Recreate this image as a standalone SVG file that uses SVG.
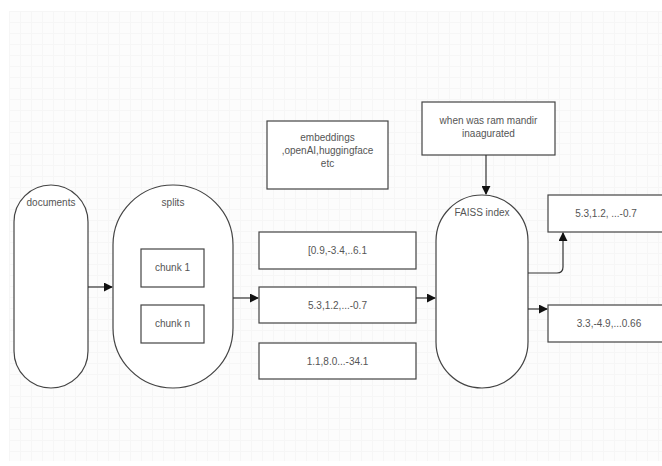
<svg xmlns="http://www.w3.org/2000/svg" width="662" height="466" viewBox="0 0 662 466">
<defs>
<pattern id="grid" width="11" height="11" patternUnits="userSpaceOnUse" x="9" y="11">
<rect width="11" height="11" fill="#fcfcfc"/>
<path d="M0 0.5H11M0.5 0V11" stroke="#f6f6f6" stroke-width="1" fill="none"/>
</pattern>
<marker id="arr" viewBox="0 0 10 10" refX="9" refY="5" markerWidth="9" markerHeight="9" markerUnits="userSpaceOnUse" orient="auto">
<path d="M0 0L10 5L0 10z" fill="#111"/>
</marker>
</defs>
<style>
.shape{fill:#fff;stroke:#444;stroke-width:1.2}
.t{font-family:"Liberation Sans Narrow","Liberation Sans",Arial,sans-serif;font-size:10px;fill:#555;text-anchor:middle}
.c{fill:none;stroke:#333;stroke-width:1.2}
</style>
<rect x="0" y="0" width="662" height="466" fill="#fff"/>
<rect x="9" y="11" width="653" height="450" fill="url(#grid)"/>

<g id="documents">
<rect class="shape" x="14" y="185" width="74" height="203" rx="37" ry="37"/>
<text class="t" x="51" y="206">documents</text>
</g>
<g id="splits">
<rect class="shape" x="113" y="185" width="120" height="203" rx="60" ry="60"/>
<text class="t" x="173" y="206">splits</text>
</g>
<g id="chunk1">
<rect class="shape" x="141" y="249" width="63" height="38"/>
<text class="t" x="172.5" y="271">chunk 1</text>
</g>
<g id="chunkn">
<rect class="shape" x="141" y="305" width="63" height="38"/>
<text class="t" x="172.5" y="327">chunk n</text>
</g>
<g id="embeddings">
<rect class="shape" x="267" y="121" width="121" height="68"/>
<text class="t" x="327.5" y="141">embeddings</text>
<text class="t" x="327.5" y="154">,openAI,huggingface</text>
<text class="t" x="327.5" y="167">etc</text>
</g>
<g id="vec1">
<rect class="shape" x="259" y="232" width="157" height="37"/>
<text class="t" x="337.5" y="254">[0.9,-3.4,..6.1</text>
</g>
<g id="vec2">
<rect class="shape" x="259" y="287" width="157" height="36"/>
<text class="t" x="337.5" y="309">5.3,1.2,...-0.7</text>
</g>
<g id="vec3">
<rect class="shape" x="259" y="343" width="157" height="36"/>
<text class="t" x="337.5" y="365">1.1,8.0...-34.1</text>
</g>
<g id="question">
<rect class="shape" x="422" y="102" width="133" height="53"/>
<text class="t" x="488.5" y="124">when was ram mandir</text>
<text class="t" x="488.5" y="137">inaagurated</text>
</g>
<g id="faiss">
<rect class="shape" x="436" y="195" width="92" height="193" rx="46" ry="46"/>
<text class="t" x="482" y="216">FAISS index</text>
</g>
<g id="result1">
<rect class="shape" x="548" y="195" width="120" height="37"/>
<text class="t" x="606" y="217">5.3,1.2, ...-0.7</text>
</g>
<g id="result2">
<rect class="shape" x="548" y="305" width="120" height="37"/>
<text class="t" x="609" y="327">3.3,-4.9,...0.66</text>
</g>

<g id="connectors">
<path class="c" d="M88 287H112" marker-end="url(#arr)"/>
<path class="c" d="M233 298H258" marker-end="url(#arr)"/>
<path class="c" d="M416 298H435" marker-end="url(#arr)"/>
<path class="c" d="M486 155V194" marker-end="url(#arr)"/>
<path class="c" d="M528 273H557Q563 273 563 267V233" marker-end="url(#arr)"/>
<path class="c" d="M528 309H547" marker-end="url(#arr)"/>
</g>
</svg>
